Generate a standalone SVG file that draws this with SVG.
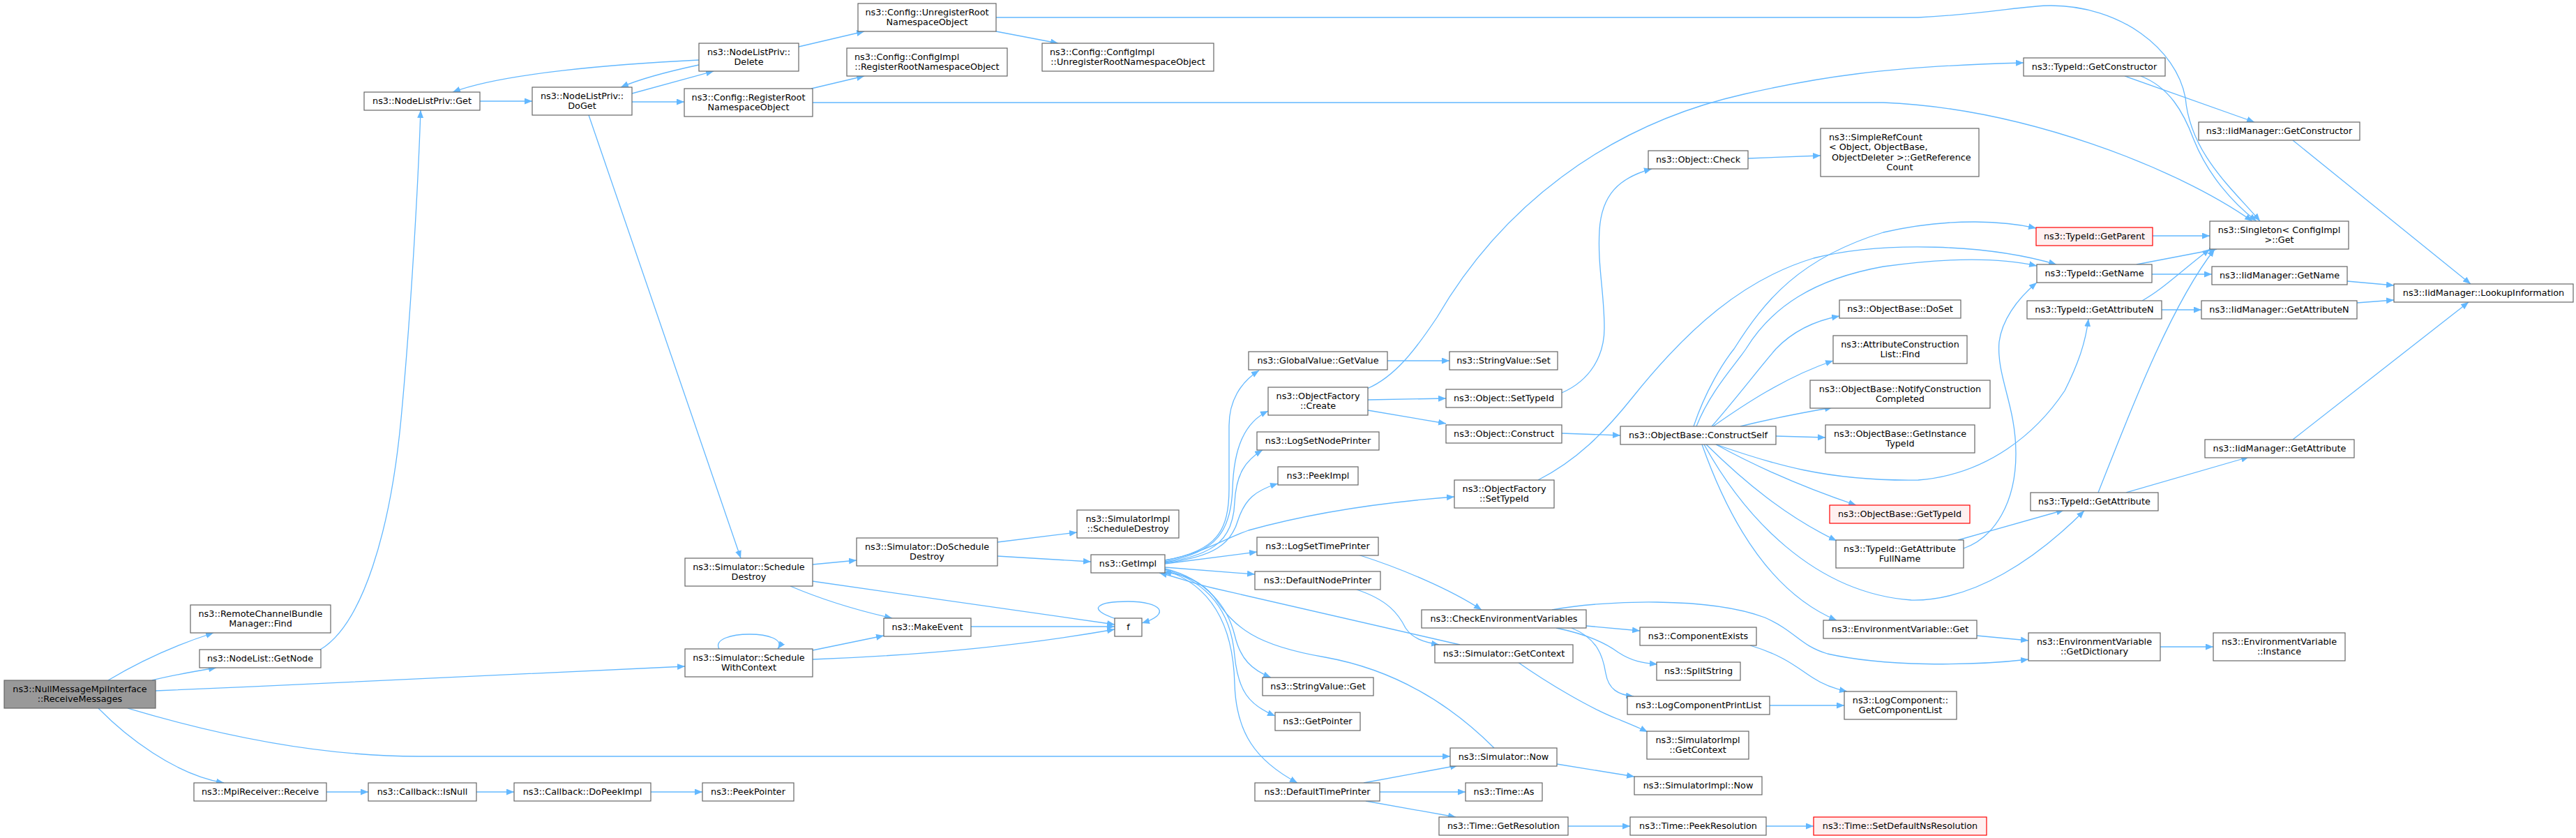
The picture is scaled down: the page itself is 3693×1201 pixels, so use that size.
<svg xmlns="http://www.w3.org/2000/svg" width="3693" height="1201" viewBox="0 0 3693 1201">
<defs>
<marker id="a" markerWidth="12" markerHeight="10" refX="11" refY="4.5" orient="auto" markerUnits="userSpaceOnUse"><path d="M0,0 L11,4.5 L0,9 z" fill="#63B8FF"/></marker>
</defs>
<style>
.n rect{fill:#ffffff;stroke:#666666;stroke-width:1.2}
.r rect{fill:#999999;stroke:#666666;stroke-width:1.2}
.x rect{fill:#FFF0F0;stroke:#FF0000;stroke-width:1.2}
text{font-family:"DejaVu Sans","Liberation Sans",sans-serif;font-size:12.8px;fill:#000000;text-anchor:middle}
text.l{text-anchor:start}
#edges path{fill:none;stroke:#63B8FF;stroke-width:1.3;marker-end:url(#a)}
</style>
<rect x="0" y="0" width="3693" height="1201" fill="#ffffff"/>
<g id="edges">
<path d="M155,975 C200,948 250,925 306,907"/>
<path d="M218,975 C245,968 280,962 310,957"/>
<path d="M223,990 C500,978 800,965 982,955"/>
<path d="M183,1015 C300,1050 450,1084 600,1084 L2079,1084"/>
<path d="M141,1015 C180,1055 250,1110 321,1122"/>
<path d="M468,1135 L528,1135"/>
<path d="M683,1135 L737,1135"/>
<path d="M933,1135 L1007,1135"/>
<path d="M459,931 C520,895 560,760 575,600 C590,440 600,250 603,158"/>
<path d="M688,145 L763,145"/>
<path d="M906,134 L1023,102"/>
<path d="M1002,86 C880,92 720,105 649,132"/>
<path d="M1002,93 C960,102 920,112 890,125"/>
<path d="M906,146 L981,146"/>
<path d="M844,165 L1062,800"/>
<path d="M1145,67 L1239,45"/>
<path d="M1428,45 L1517,62"/>
<path d="M1163,127 L1239,109"/>
<path d="M1428,25 L2750,25 C2850,20 2900,8 2940,8 C3040,8 3120,70 3133,140 C3140,220 3200,270 3240,317"/>
<path d="M1165,147 L2700,147 C2900,155 3120,240 3229,317"/>
<path d="M1165,809 L1228,803"/>
<path d="M1133,840 C1180,860 1230,875 1279,886"/>
<path d="M1165,833 L1598,895"/>
<path d="M1430,777 L1544,763"/>
<path d="M1430,797 L1564,805"/>
<path d="M1031,930 C1015,902 1135,902 1115,930"/>
<path d="M1165,932 L1267,911"/>
<path d="M1165,945 C1300,940 1450,928 1598,902"/>
<path d="M1392,898 L1598,898"/>
<path d="M1600,887 C1555,872 1575,862 1617,862 C1665,862 1680,880 1637,893"/>
<path d="M1670,803 C1745,790 1762,760 1762,700 L1762,610 C1762,575 1778,548 1805,531"/>
<path d="M1670,805 C1745,792 1765,760 1767,700 C1769,640 1785,605 1818,589"/>
<path d="M1670,806 C1745,795 1768,770 1770,720 C1772,680 1785,660 1810,645"/>
<path d="M1670,807 C1740,798 1765,780 1775,745 C1785,715 1800,703 1832,693"/>
<path d="M1670,803 C1720,795 1760,770 1790,760 C1880,735 1980,720 2085,712"/>
<path d="M1670,808 L1802,791"/>
<path d="M1670,813 L1799,823"/>
<path d="M1670,815 C1730,830 1760,870 1770,910 C1778,945 1795,960 1822,971"/>
<path d="M1670,816 C1735,835 1765,880 1770,940 C1775,990 1790,1010 1828,1026"/>
<path d="M1670,817 C1740,840 1768,900 1770,980 C1772,1050 1800,1090 1860,1122"/>
<path d="M2093,924 L1740,843 C1710,836 1690,828 1662,821"/>
<path d="M2142,1072 C2080,1010 2000,960 1900,942 C1800,925 1770,900 1740,855 C1720,830 1690,822 1668,820"/>
<path d="M1989,517 L2078,517"/>
<path d="M1960,557 C2000,540 2030,500 2060,455 C2150,300 2300,180 2500,135 C2600,112 2700,95 2901,90"/>
<path d="M1961,573 L2073,571"/>
<path d="M1961,588 L2073,607"/>
<path d="M2239,563 C2280,545 2300,510 2300,470 C2300,420 2290,380 2293,330 C2296,280 2320,255 2368,242"/>
<path d="M2506,227 L2610,223"/>
<path d="M2239,621 L2323,624"/>
<path d="M2205,688 C2260,660 2300,620 2340,570 C2420,470 2500,400 2600,370 C2700,345 2850,350 2948,379"/>
<path d="M2428,611 C2445,560 2470,520 2486,500 C2530,430 2580,370 2700,333 C2800,310 2880,318 2919,327"/>
<path d="M2432,611 C2452,560 2490,520 2503,500 C2540,440 2600,400 2700,382 C2800,368 2870,370 2920,381"/>
<path d="M2454,611 C2490,570 2520,530 2546,500 C2570,475 2600,460 2637,453"/>
<path d="M2456,611 C2500,580 2560,540 2628,517"/>
<path d="M2495,611 C2540,600 2580,592 2627,584"/>
<path d="M2546,625 L2617,627"/>
<path d="M2460,637 C2540,665 2620,690 2750,688 C2850,680 2920,620 2960,560 C2980,520 2990,490 2994,457"/>
<path d="M2460,637 C2520,670 2590,700 2661,724"/>
<path d="M2446,637 C2500,690 2560,740 2633,775"/>
<path d="M2443,637 C2500,740 2600,850 2740,860 C2830,862 2920,800 2988,732"/>
<path d="M2440,637 C2480,750 2540,850 2633,889"/>
<path d="M1947,795 C2010,815 2080,845 2124,874"/>
<path d="M1945,845 C1990,860 2005,880 2015,900 C2025,915 2040,920 2063,924"/>
<path d="M2274,897 L2351,904"/>
<path d="M2231,900 C2270,908 2300,920 2320,935 C2340,948 2355,950 2376,952"/>
<path d="M2253,900 C2290,915 2298,940 2302,965 C2306,988 2320,996 2342,998"/>
<path d="M2225,874 C2300,860 2450,855 2530,885 C2575,905 2580,925 2620,937 C2700,955 2820,955 2908,945"/>
<path d="M2509,925 C2560,940 2580,960 2600,972 C2615,982 2630,987 2648,991"/>
<path d="M2537,1011 L2644,1011"/>
<path d="M2176,949 C2220,980 2280,1015 2318,1030 C2335,1037 2350,1043 2362,1049"/>
<path d="M2232,1095 L2343,1113"/>
<path d="M1955,1122 L2090,1097"/>
<path d="M1978,1135 L2101,1135"/>
<path d="M1958,1148 L2087,1171"/>
<path d="M2248,1184 L2337,1184"/>
<path d="M2532,1184 L2600,1184"/>
<path d="M2834,911 L2908,918"/>
<path d="M3097,927 L3173,927"/>
<path d="M2815,786 C2860,770 2890,720 2890,650 C2890,580 2862,540 2866,490 C2870,460 2890,430 2920,405"/>
<path d="M2807,774 L2959,731"/>
<path d="M3048,706 L3224,655"/>
<path d="M3008,706 C3050,600 3110,440 3175,357"/>
<path d="M3287,630 L3539,433"/>
<path d="M3071,431 C3100,415 3125,390 3168,357"/>
<path d="M3099,444 L3156,444"/>
<path d="M3379,434 L3432,430"/>
<path d="M3085,393 L3171,393"/>
<path d="M3063,379 L3178,357"/>
<path d="M3365,403 L3432,409"/>
<path d="M3086,338 L3168,338"/>
<path d="M3046,109 L3232,175"/>
<path d="M3069,109 C3110,125 3130,160 3145,200 C3165,250 3200,290 3235,317"/>
<path d="M3287,201 L3542,407"/>
</g>
<g id="n1" class="r"><rect x="6" y="975" width="217" height="40"/><text x="114.5" y="991.5">ns3::NullMessageMpiInterface</text><text x="114.5" y="1006">::ReceiveMessages</text></g>
<g id="n2" class="n"><rect x="273" y="867" width="201" height="40"/><text x="373.5" y="883.5">ns3::RemoteChannelBundle</text><text x="373.5" y="898">Manager::Find</text></g>
<g id="n3" class="n"><rect x="286" y="931" width="174" height="26"/><text x="373" y="947.75">ns3::NodeList::GetNode</text></g>
<g id="n4" class="n"><rect x="278" y="1122" width="190" height="26"/><text x="373" y="1138.75">ns3::MpiReceiver::Receive</text></g>
<g id="n5" class="n"><rect x="528" y="1122" width="155" height="26"/><text x="605.5" y="1138.75">ns3::Callback::IsNull</text></g>
<g id="n6" class="n"><rect x="737" y="1122" width="196" height="26"/><text x="835" y="1138.75">ns3::Callback::DoPeekImpl</text></g>
<g id="n7" class="n"><rect x="1007" y="1122" width="131" height="26"/><text x="1072.5" y="1138.75">ns3::PeekPointer</text></g>
<g id="n8" class="n"><rect x="522" y="132" width="166" height="26"/><text x="605" y="148.75">ns3::NodeListPriv::Get</text></g>
<g id="n9" class="n"><rect x="763" y="125" width="143" height="40"/><text x="834.5" y="141.5">ns3::NodeListPriv::</text><text x="834.5" y="156">DoGet</text></g>
<g id="n10" class="n"><rect x="1002" y="62" width="143" height="40"/><text x="1073.5" y="78.5">ns3::NodeListPriv::</text><text x="1073.5" y="93">Delete</text></g>
<g id="n11" class="n"><rect x="981" y="127" width="184" height="40"/><text x="1073" y="143.5">ns3::Config::RegisterRoot</text><text x="1073" y="158">NamespaceObject</text></g>
<g id="n12" class="n"><rect x="1230" y="5" width="198" height="40"/><text x="1329" y="21.5">ns3::Config::UnregisterRoot</text><text x="1329" y="36">NamespaceObject</text></g>
<g id="n13" class="n"><rect x="1214" y="69" width="230" height="40"/><text class="l" x="1225" y="85.5">ns3::Config::ConfigImpl</text><text x="1329" y="100">::RegisterRootNamespaceObject</text></g>
<g id="n14" class="n"><rect x="1494" y="62" width="246" height="40"/><text class="l" x="1505" y="78.5">ns3::Config::ConfigImpl</text><text x="1617" y="93">::UnregisterRootNamespaceObject</text></g>
<g id="n15" class="n"><rect x="982" y="800" width="183" height="40"/><text x="1073.5" y="816.5">ns3::Simulator::Schedule</text><text x="1073.5" y="831">Destroy</text></g>
<g id="n16" class="n"><rect x="1228" y="771" width="202" height="40"/><text x="1329" y="787.5">ns3::Simulator::DoSchedule</text><text x="1329" y="802">Destroy</text></g>
<g id="n17" class="n"><rect x="1544" y="731" width="146" height="40"/><text x="1617" y="747.5">ns3::SimulatorImpl</text><text x="1617" y="762">::ScheduleDestroy</text></g>
<g id="n18" class="n"><rect x="1564" y="795" width="106" height="26"/><text x="1617" y="811.75">ns3::GetImpl</text></g>
<g id="n19" class="n"><rect x="1267" y="886" width="125" height="26"/><text x="1329.5" y="902.75">ns3::MakeEvent</text></g>
<g id="n20" class="n"><rect x="1598" y="886" width="39" height="26"/><text x="1617.5" y="902.75">f</text></g>
<g id="n21" class="n"><rect x="982" y="930" width="183" height="40"/><text x="1073.5" y="946.5">ns3::Simulator::Schedule</text><text x="1073.5" y="961">WithContext</text></g>
<g id="n22" class="n"><rect x="1790" y="504" width="199" height="26"/><text x="1889.5" y="520.75">ns3::GlobalValue::GetValue</text></g>
<g id="n23" class="n"><rect x="2078" y="504" width="155" height="26"/><text x="2155.5" y="520.75">ns3::StringValue::Set</text></g>
<g id="n24" class="n"><rect x="1818" y="555" width="143" height="40"/><text x="1889.5" y="571.5">ns3::ObjectFactory</text><text x="1889.5" y="586">::Create</text></g>
<g id="n25" class="n"><rect x="2073" y="558" width="166" height="26"/><text x="2156" y="574.75">ns3::Object::SetTypeId</text></g>
<g id="n26" class="n"><rect x="2073" y="609" width="166" height="26"/><text x="2156" y="625.75">ns3::Object::Construct</text></g>
<g id="n27" class="n"><rect x="2323" y="611" width="223" height="26"/><text x="2434.5" y="627.75">ns3::ObjectBase::ConstructSelf</text></g>
<g id="n28" class="n"><rect x="1802" y="619" width="175" height="26"/><text x="1889.5" y="635.75">ns3::LogSetNodePrinter</text></g>
<g id="n29" class="n"><rect x="1832" y="669" width="115" height="26"/><text x="1889.5" y="685.75">ns3::PeekImpl</text></g>
<g id="n30" class="n"><rect x="2085" y="688" width="143" height="40"/><text x="2156.5" y="704.5">ns3::ObjectFactory</text><text x="2156.5" y="719">::SetTypeId</text></g>
<g id="n31" class="n"><rect x="1802" y="770" width="174" height="26"/><text x="1889" y="786.75">ns3::LogSetTimePrinter</text></g>
<g id="n32" class="n"><rect x="1799" y="819" width="180" height="26"/><text x="1889" y="835.75">ns3::DefaultNodePrinter</text></g>
<g id="n33" class="n"><rect x="2038" y="874" width="236" height="26"/><text x="2156" y="890.75">ns3::CheckEnvironmentVariables</text></g>
<g id="n34" class="n"><rect x="2351" y="899" width="167" height="26"/><text x="2434.5" y="915.75">ns3::ComponentExists</text></g>
<g id="n35" class="n"><rect x="2057" y="924" width="198" height="26"/><text x="2156" y="940.75">ns3::Simulator::GetContext</text></g>
<g id="n36" class="n"><rect x="2375" y="949" width="120" height="26"/><text x="2435" y="965.75">ns3::SplitString</text></g>
<g id="n37" class="n"><rect x="1810" y="971" width="159" height="26"/><text x="1889.5" y="987.75">ns3::StringValue::Get</text></g>
<g id="n38" class="n"><rect x="2333" y="998" width="204" height="26"/><text x="2435" y="1014.75">ns3::LogComponentPrintList</text></g>
<g id="n39" class="n"><rect x="1828" y="1021" width="122" height="26"/><text x="1889" y="1037.75">ns3::GetPointer</text></g>
<g id="n40" class="n"><rect x="2361" y="1048" width="146" height="40"/><text x="2434" y="1064.5">ns3::SimulatorImpl</text><text x="2434" y="1079">::GetContext</text></g>
<g id="n41" class="n"><rect x="2079" y="1072" width="153" height="26"/><text x="2155.5" y="1088.75">ns3::Simulator::Now</text></g>
<g id="n42" class="n"><rect x="2343" y="1113" width="183" height="26"/><text x="2434.5" y="1129.75">ns3::SimulatorImpl::Now</text></g>
<g id="n43" class="n"><rect x="1799" y="1122" width="179" height="26"/><text x="1888.5" y="1138.75">ns3::DefaultTimePrinter</text></g>
<g id="n44" class="n"><rect x="2101" y="1122" width="110" height="26"/><text x="2156" y="1138.75">ns3::Time::As</text></g>
<g id="n45" class="n"><rect x="2063" y="1171" width="185" height="26"/><text x="2155.5" y="1187.75">ns3::Time::GetResolution</text></g>
<g id="n46" class="n"><rect x="2337" y="1171" width="195" height="26"/><text x="2434.5" y="1187.75">ns3::Time::PeekResolution</text></g>
<g id="n47" class="x"><rect x="2600" y="1171" width="248" height="26"/><text x="2724" y="1187.75">ns3::Time::SetDefaultNsResolution</text></g>
<g id="n48" class="n"><rect x="2644" y="991" width="161" height="40"/><text x="2724.5" y="1007.5">ns3::LogComponent::</text><text x="2724.5" y="1022">GetComponentList</text></g>
<g id="n49" class="n"><rect x="2614" y="889" width="220" height="26"/><text x="2724" y="905.75">ns3::EnvironmentVariable::Get</text></g>
<g id="n50" class="n"><rect x="2908" y="907" width="189" height="40"/><text x="3002.5" y="923.5">ns3::EnvironmentVariable</text><text x="3002.5" y="938">::GetDictionary</text></g>
<g id="n51" class="n"><rect x="3173" y="907" width="189" height="40"/><text x="3267.5" y="923.5">ns3::EnvironmentVariable</text><text x="3267.5" y="938">::Instance</text></g>
<g id="n52" class="n"><rect x="2363" y="216" width="143" height="26"/><text x="2434.5" y="232.75">ns3::Object::Check</text></g>
<g id="n53" class="n"><rect x="2610" y="184" width="227" height="69"/><text class="l" x="2622" y="200.5">ns3::SimpleRefCount</text><text class="l" x="2622" y="215">&lt; Object, ObjectBase,</text><text class="l" x="2626" y="229.5">ObjectDeleter &gt;::GetReference</text><text x="2723.5" y="244">Count</text></g>
<g id="n54" class="n"><rect x="2637" y="430" width="174" height="26"/><text x="2724" y="446.75">ns3::ObjectBase::DoSet</text></g>
<g id="n55" class="n"><rect x="2628" y="481" width="192" height="40"/><text x="2724" y="497.5">ns3::AttributeConstruction</text><text x="2724" y="512">List::Find</text></g>
<g id="n56" class="n"><rect x="2595" y="545" width="258" height="40"/><text x="2724" y="561.5">ns3::ObjectBase::NotifyConstruction</text><text x="2724" y="576">Completed</text></g>
<g id="n57" class="n"><rect x="2617" y="609" width="214" height="40"/><text x="2724" y="625.5">ns3::ObjectBase::GetInstance</text><text x="2724" y="640">TypeId</text></g>
<g id="n58" class="x"><rect x="2623" y="724" width="201" height="26"/><text x="2723.5" y="740.75">ns3::ObjectBase::GetTypeId</text></g>
<g id="n59" class="n"><rect x="2632" y="774" width="183" height="40"/><text x="2723.5" y="790.5">ns3::TypeId::GetAttribute</text><text x="2723.5" y="805">FullName</text></g>
<g id="n60" class="n"><rect x="2901" y="83" width="203" height="26"/><text x="3002.5" y="99.75">ns3::TypeId::GetConstructor</text></g>
<g id="n61" class="n"><rect x="3152" y="175" width="231" height="26"/><text x="3267.5" y="191.75">ns3::IidManager::GetConstructor</text></g>
<g id="n62" class="n"><rect x="3168" y="317" width="199" height="40"/><text x="3267.5" y="333.5">ns3::Singleton&lt; ConfigImpl</text><text x="3267.5" y="348">&gt;::Get</text></g>
<g id="n63" class="x"><rect x="2919" y="326" width="167" height="26"/><text x="3002.5" y="342.75">ns3::TypeId::GetParent</text></g>
<g id="n64" class="n"><rect x="2920" y="379" width="165" height="26"/><text x="3002.5" y="395.75">ns3::TypeId::GetName</text></g>
<g id="n65" class="n"><rect x="3171" y="382" width="194" height="26"/><text x="3268" y="398.75">ns3::IidManager::GetName</text></g>
<g id="n66" class="n"><rect x="3432" y="407" width="257" height="26"/><text x="3560.5" y="423.75">ns3::IidManager::LookupInformation</text></g>
<g id="n67" class="n"><rect x="2906" y="431" width="193" height="26"/><text x="3002.5" y="447.75">ns3::TypeId::GetAttributeN</text></g>
<g id="n68" class="n"><rect x="3156" y="431" width="223" height="26"/><text x="3267.5" y="447.75">ns3::IidManager::GetAttributeN</text></g>
<g id="n69" class="n"><rect x="2911" y="706" width="183" height="26"/><text x="3002.5" y="722.75">ns3::TypeId::GetAttribute</text></g>
<g id="n70" class="n"><rect x="3161" y="630" width="214" height="26"/><text x="3268" y="646.75">ns3::IidManager::GetAttribute</text></g>
</svg>
